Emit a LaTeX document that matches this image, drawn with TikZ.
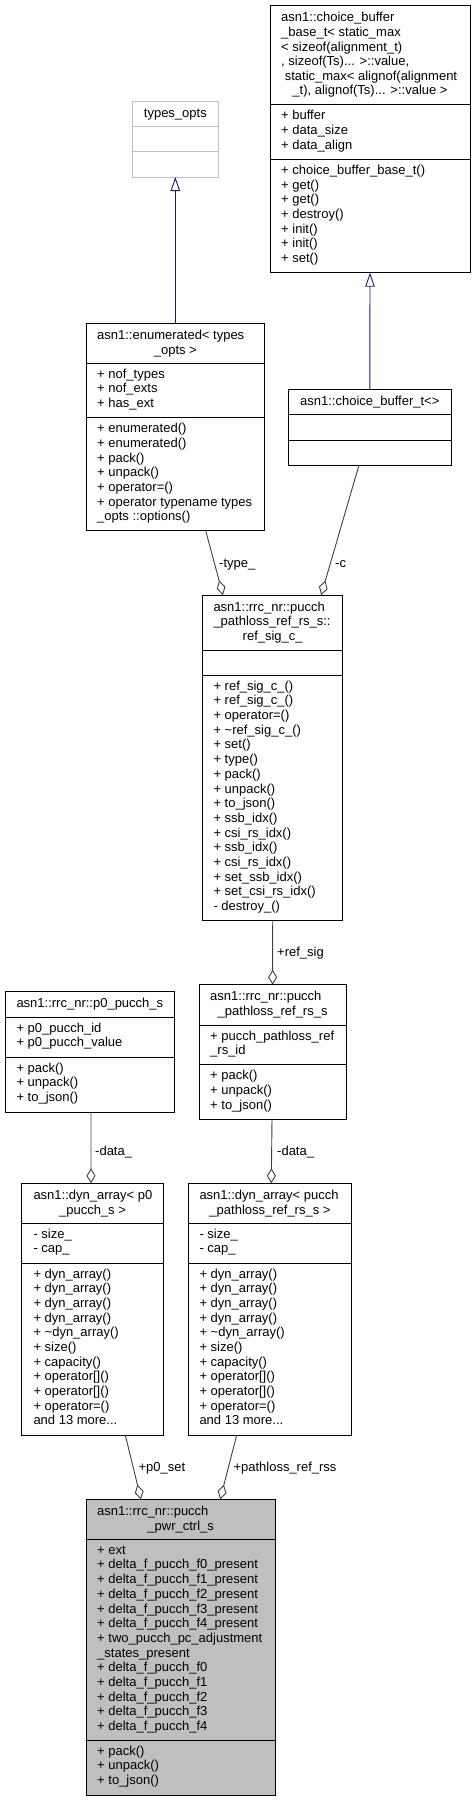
\documentclass[tikz,border=0pt]{standalone}
\usepackage{fontspec}
\setmainfont{Liberation Sans}
\usetikzlibrary{arrows.meta}
\definecolor{grayfill}{HTML}{BFBFBF}
\definecolor{edgegray}{HTML}{404040}
\definecolor{inhblue}{HTML}{191970}
\newcommand\tdots{...}
\newcommand\memlines[4]{\foreach \ltext [count=\li] in {#4}{\node[txt] (#1-\li) at (#2,{#3+(\li-1)*14.67}) {\ltext};}}
\begin{document}
\begin{tikzpicture}[x=1pt,y=-1pt,
  box/.style={draw=black, line width=1pt, inner sep=0pt, outer sep=0pt, anchor=north west},
  txt/.style={anchor=base west, inner sep=0pt, font=\fontsize{13}{14.67}\selectfont},
  ctxt/.style={txt, anchor=base},
  sep/.style={draw=black, line width=1pt},
  agg/.style={draw=edgegray, line width=0.9pt, -{Diamond[open, length=15pt, width=9pt, line width=0.9pt]}},
  inh/.style={draw=inhblue, line width=0.9pt, -{Triangle[open, length=14pt, width=9.5pt, line width=0.9pt]}}]
\useasboundingbox (0,0) rectangle (475,1801);

% choice_buffer_base_t
\node[box, minimum width=200pt, minimum height=267pt] (cbb) at (270,5.7) {};
\draw[sep] (270,104.7) -- (470,104.7);
\draw[sep] (270,159.5) -- (470,159.5);
\memlines{cbbt}{281}{21.7}{asn1::choice\_buffer, \_base\_t< static\_max, < sizeof(alignment\_t), {, sizeof(Ts)\tdots{} >::value,}}
\node[txt] (cbbt-5) at (284.6,80.4) {static\_max< alignof(alignment};
\node[ctxt] (cbbt-6) at (370,95.0) {\_t), alignof(Ts)\tdots{} >::value >};
\memlines{cbba}{281}{119.7}{+ buffer, + data\_size, + data\_align}
\memlines{cbbm}{281}{174.5}{+ choice\_buffer\_base\_t(), + get(), + get(), + destroy(), + init(), + init(), + set()}

% types_opts
\node[box, draw=grayfill, minimum width=86.7pt, minimum height=76pt] (tyo) at (132,101) {};
\draw[sep, draw=grayfill] (132,126.3) -- (218.7,126.3);
\draw[sep, draw=grayfill] (132,151.7) -- (218.7,151.7);
\node[ctxt] (tyot) at (175.35,117) {types\_opts};

% enumerated
\node[box, minimum width=178.7pt, minimum height=207.4pt] (enm) at (86,323.3) {};
\draw[sep] (86,363.3) -- (264.7,363.3);
\draw[sep] (86,417.7) -- (264.7,417.7);
\node[txt] (enmt-1) at (97,339.3) {asn1::enumerated< types};
\node[ctxt] (enmt-2) at (175.35,354) {\_opts >};
\memlines{enma}{97}{378.3}{+ nof\_types, + nof\_exts, + has\_ext}
\memlines{enmm}{97}{432.7}{+ enumerated(), + enumerated(), + pack(), + unpack(), + operator=(), + operator typename types, \_opts ::options()}

% choice_buffer_t
\node[box, minimum width=163pt, minimum height=75.7pt] (cbt) at (288.3,389.3) {};
\draw[sep] (288.3,414.7) -- (451.3,414.7);
\draw[sep] (288.3,440) -- (451.3,440);
\node[ctxt] (cbtt) at (369.8,405.3) {asn1::choice\_buffer\_t<>};

% ref_sig_c_
\node[box, minimum width=140pt, minimum height=325.7pt] (rsc) at (202.7,595) {};
\draw[sep] (202.7,650) -- (342.7,650);
\draw[sep] (202.7,675.3) -- (342.7,675.3);
\memlines{rsct}{213.3}{611}{asn1::rrc\_nr::pucch, \_pathloss\_ref\_rs\_s::}
\node[ctxt] (rsct-3) at (272.7,640.3) {ref\_sig\_c\_};
\memlines{rscm}{213.3}{690.3}{+ ref\_sig\_c\_(), + ref\_sig\_c\_(), + operator=(), + \textasciitilde ref\_sig\_c\_(), + set(), + type(), + pack(), + unpack(), + to\_json(), + ssb\_idx(), + csi\_rs\_idx(), + ssb\_idx(), + csi\_rs\_idx(), + set\_ssb\_idx(), + set\_csi\_rs\_idx(), - destroy\_()}

% p0_pucch_s
\node[box, minimum width=169.7pt, minimum height=120.3pt] (p0s) at (5,991.7) {};
\draw[sep] (5,1017.3) -- (174.7,1017.3);
\draw[sep] (5,1057) -- (174.7,1057);
\node[ctxt] (p0st) at (89.85,1007.7) {asn1::rrc\_nr::p0\_pucch\_s};
\memlines{p0sa}{16.3}{1032.3}{+ p0\_pucch\_id, + p0\_pucch\_value}
\memlines{p0sm}{16.3}{1072}{+ pack(), + unpack(), + to\_json()}

% pucch_pathloss_ref_rs_s
\node[box, minimum width=146.7pt, minimum height=134.6pt] (plr) at (199.3,984.7) {};
\draw[sep] (199.3,1025) -- (346,1025);
\draw[sep] (199.3,1064.7) -- (346,1064.7);
\node[txt] (plrt-1) at (210,1000.7) {asn1::rrc\_nr::pucch};
\node[ctxt] (plrt-2) at (272.65,1015.4) {\_pathloss\_ref\_rs\_s};
\memlines{plra}{210}{1040}{+ pucch\_pathloss\_ref, \_rs\_id}
\memlines{plrm}{210}{1079.7}{+ pack(), + unpack(), + to\_json()}

% dyn_array< p0_pucch_s >
\node[box, minimum width=141.6pt, minimum height=251.7pt] (dp0) at (21.7,1183.3) {};
\draw[sep] (21.7,1223.3) -- (163.3,1223.3);
\draw[sep] (21.7,1263) -- (163.3,1263);
\node[txt] (dp0t-1) at (33.3,1199.3) {asn1::dyn\_array< p0};
\node[ctxt] (dp0t-2) at (92.5,1214) {\_pucch\_s >};
\memlines{dp0a}{33.3}{1238.3}{- size\_, - cap\_}
\memlines{dp0m}{33.3}{1278}{+ dyn\_array(), + dyn\_array(), + dyn\_array(), + dyn\_array(), + \textasciitilde dyn\_array(), + size(), + capacity(), + operator[](), + operator[](), + operator=(), and 13 more\tdots}

% dyn_array< pucch_pathloss_ref_rs_s >
\node[box, minimum width=162.6pt, minimum height=251.7pt] (dpl) at (188.7,1183.3) {};
\draw[sep] (188.7,1223.3) -- (351.3,1223.3);
\draw[sep] (188.7,1263) -- (351.3,1263);
\node[txt] (dplt-1) at (199.3,1199.3) {asn1::dyn\_array< pucch};
\node[ctxt] (dplt-2) at (270,1214) {\_pathloss\_ref\_rs\_s >};
\memlines{dpla}{199.3}{1238.3}{- size\_, - cap\_}
\memlines{dplm}{199.3}{1278}{+ dyn\_array(), + dyn\_array(), + dyn\_array(), + dyn\_array(), + \textasciitilde dyn\_array(), + size(), + capacity(), + operator[](), + operator[](), + operator=(), and 13 more\tdots}

% pucch_pwr_ctrl_s
\node[box, fill=grayfill, minimum width=189.3pt, minimum height=295.7pt] (pwr) at (86,1499.3) {};
\draw[sep] (86,1539.3) -- (275.3,1539.3);
\draw[sep] (86,1740.3) -- (275.3,1740.3);
\node[txt] (pwrt-1) at (97,1515.3) {asn1::rrc\_nr::pucch};
\node[ctxt] (pwrt-2) at (180.65,1530) {\_pwr\_ctrl\_s};
\memlines{pwra}{97}{1554.3}{+ ext, + delta\_f\_pucch\_f0\_present, + delta\_f\_pucch\_f1\_present, + delta\_f\_pucch\_f2\_present, + delta\_f\_pucch\_f3\_present, + delta\_f\_pucch\_f4\_present, + two\_pucch\_pc\_adjustment, \_states\_present, + delta\_f\_pucch\_f0, + delta\_f\_pucch\_f1, + delta\_f\_pucch\_f2, + delta\_f\_pucch\_f3, + delta\_f\_pucch\_f4}
\memlines{pwrm}{97}{1755.3}{+ pack(), + unpack(), + to\_json()}

% connectors
\draw[inh] (enm.north) -- (tyo.south);
\draw[inh] (cbt.north) -- (cbb.south);
\draw[agg] ([xshift=30.35pt]enm.south) -- ([xshift=-49.7pt]rsc.north);
\draw[agg] ([xshift=-10.8pt]cbt.south) -- ([xshift=48.5pt]rsc.north);
\draw[agg] (rsc.south) -- (plr.north);
\draw[agg] ([xshift=1.15pt]p0s.south) -- ([xshift=-1.5pt]dp0.north);
\draw[agg] ([xshift=-0.65pt]plr.south) -- ([xshift=1.3pt]dpl.north);
\draw[agg] ([xshift=32.8pt]dp0.south) -- ([xshift=-39.65pt]pwr.north);
\draw[agg] ([xshift=-33.3pt]dpl.south) -- ([xshift=39.55pt]pwr.north);

% labels
\node[txt] (ltype) at (219,567.5) {-type\_};
\node[txt] (lc) at (335,567.5) {-c};
\node[txt] (lrefsig) at (277,956) {+ref\_sig};
\node[txt] (ldata1) at (95,1155) {-data\_};
\node[txt] (ldata2) at (277,1155) {-data\_};
\node[txt] (lp0set) at (138.3,1471) {+p0\_set};
\node[txt] (lprss) at (233.3,1471) {+pathloss\_ref\_rss};
\end{tikzpicture}
\end{document}
